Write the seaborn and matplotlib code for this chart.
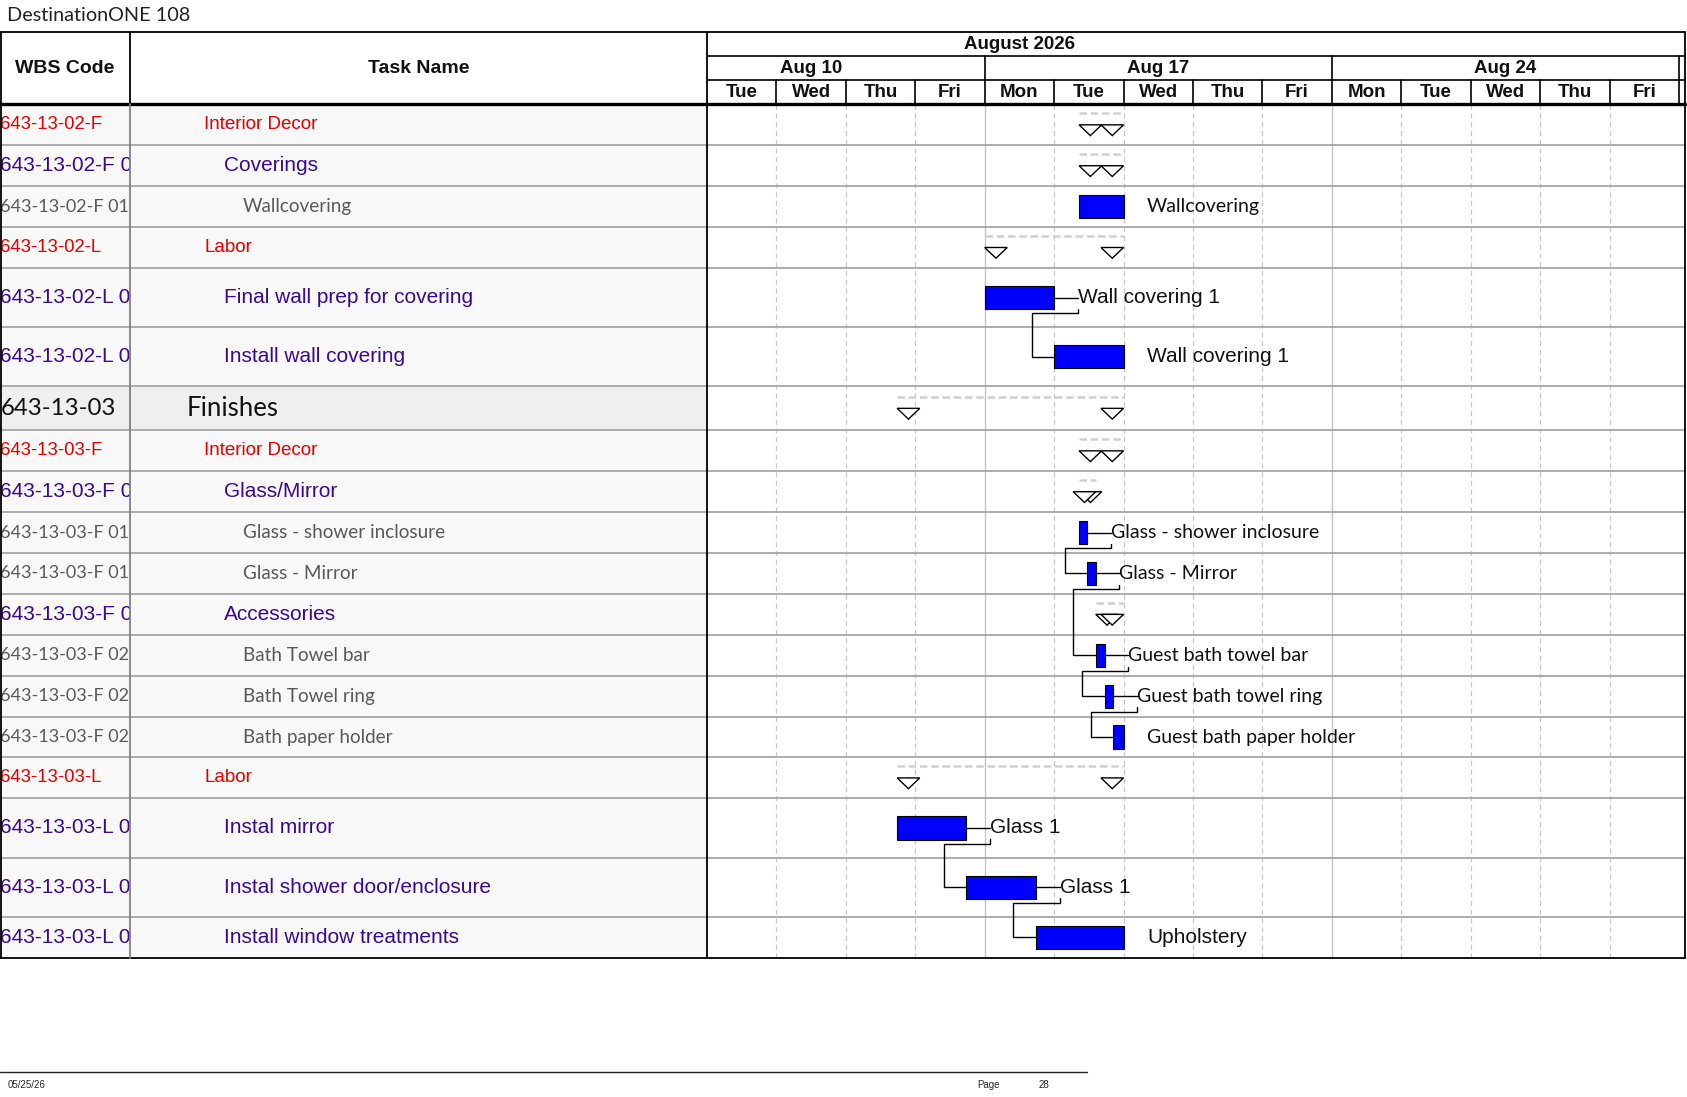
import numpy as np
import matplotlib.pyplot as plt
from matplotlib.patches import Polygon
import seaborn as sns

sns.set_theme(style="white")
plt.rcParams['font.family'] = ['Liberation Sans', 'DejaVu Sans']

# ---------------- data ----------------
wbs_codes = ["643-13-02-F", "643-13-02-F 01", "643-13-02-F 01.01", "643-13-02-L",
             "643-13-02-L 01", "643-13-02-L 02", "643-13-03", "643-13-03-F",
             "643-13-03-F 01", "643-13-03-F 01.01", "643-13-03-F 01.02",
             "643-13-03-F 02", "643-13-03-F 02.01", "643-13-03-F 02.02",
             "643-13-03-F 02.03", "643-13-03-L", "643-13-03-L 01",
             "643-13-03-L 02", "643-13-03-L 03"]
task_names = ["Interior Decor", "Coverings", "Wallcovering", "Labor",
              "Final wall prep for covering", "Install wall covering", "Finishes",
              "Interior Decor", "Glass/Mirror", "Glass - shower inclosure",
              "Glass - Mirror", "Accessories", "Bath Towel bar", "Bath Towel ring",
              "Bath paper holder", "Labor", "Instal mirror",
              "Instal shower door/enclosure", "Install window treatments"]
outline_level = [1, 2, 3, 1, 2, 2, 0, 1, 2, 3, 3, 2, 3, 3, 3, 1, 2, 2, 2]
is_summary = [True, True, False, True, False, False, True, True, True, False,
              False, True, False, False, False, True, False, False, False]
# start / finish in working days counted from Tue Aug 11, 2026
task_start = [5.36, 5.36, 5.36, 4.0, 4.0, 5.0, 2.74, 5.36, 5.36, 5.36, 5.48,
              5.6, 5.6, 5.73, 5.855, 2.74, 2.74, 3.735, 4.74]
task_finish = [6.0, 6.0, 6.0, 6.0, 5.0, 6.0, 6.0, 6.0, 5.6, 5.48, 5.6, 6.0,
               5.73, 5.855, 6.0, 6.0, 3.735, 4.74, 6.0]
bar_labels = ["", "", "Wallcovering", "", "Wall covering 1", "Wall covering 1", "",
              "", "", "Glass - shower inclosure", "Glass - Mirror", "",
              "Guest bath towel bar", "Guest bath towel ring",
              "Guest bath paper holder", "", "Glass 1", "Glass 1", "Upholstery"]
links = [(4, 5), (9, 10), (10, 12), (12, 13), (13, 14), (16, 17), (17, 18)]
day_names = ["Tue", "Wed", "Thu", "Fri", "Mon", "Tue", "Wed", "Thu", "Fri",
             "Mon", "Tue", "Wed", "Thu", "Fri"]
week_names = ["Aug 10", "Aug 17", "Aug 24"]
week_first_day = [-1, 4, 9]
month_name = "August 2026"
month_span = (-6, 15)

# ---------------- layout / style ----------------
row_h = [38, 38, 38, 38, 55, 55, 41, 38, 38, 38, 38, 38, 38, 38, 38, 38, 55, 55, 38]
resource_label = [False, False, False, False, True, True, False, False, False,
                  False, False, False, False, False, False, False, True, True, True]
level_color = {0: "#111111", 1: "#E00000", 2: "#3B0A8A", 3: "#595959"}
level_indent = {0: 52, 1: 69, 2: 87, 3: 105}
CAL = ['Lato', 'DejaVu Sans']
ARI = ['Liberation Sans', 'DejaVu Sans']
# (family, wbs size, task size) per outline level
level_font = {0: (CAL, 17.3, 18.5), 1: (ARI, 13.3, 13.5), 2: (ARI, 15, 15),
              3: (CAL, 13, 13.6)}

W, H = 1687, 1097
fig = plt.figure(figsize=(W / 100, H / 100), dpi=100)


def add_ax(x0, y0, x1, y1):
    ax = fig.add_axes([x0 / W, 1 - y1 / H, (x1 - x0) / W, (y1 - y0) / H])
    ax.set_axis_off()
    return ax


X_COL1, X_COL2, X_RIGHT = 130.2, 706.9, 1685.5
Y_TOP, Y_BODY, Y_BOT = 32.3, 104.4, 957.6
n_days = 14
x_max = 14.093

heights = np.array(row_h, dtype=float)
tops = np.concatenate([[0], np.cumsum(heights)[:-1]])
centers = tops + heights / 2
bottoms = tops + heights
total_h = heights.sum()

ax_wbs = add_ax(0, Y_BODY, X_COL1, Y_BOT)
ax_task = add_ax(X_COL1, Y_BODY, X_COL2, Y_BOT)
ax_g = add_ax(X_COL2, Y_BODY, X_RIGHT, Y_BOT)
ax_h = add_ax(X_COL2, Y_TOP, X_RIGHT, Y_BODY)

for ax, w in ((ax_wbs, 121), (ax_task, 536)):
    ax.set_xlim(0, w)
    ax.set_ylim(total_h, 0)
    for i in range(len(row_h)):
        bg = "#EFEFEF" if outline_level[i] == 0 else "#F8F8F8"
        ax.axhspan(tops[i], bottoms[i], color=bg, lw=0, zorder=0)
ax_g.set_xlim(0, x_max)
ax_g.set_ylim(total_h, 0)

# table text
for i, (code, name, lvl) in enumerate(zip(wbs_codes, task_names, outline_level)):
    fam, s_wbs, s_task = level_font[lvl]
    ax_wbs.text(0.3, centers[i], code, family=fam, fontsize=s_wbs,
                color=level_color[lvl], va="center", ha="left", clip_on=True)
    ax_task.text(level_indent[lvl], centers[i], name, family=fam, fontsize=s_task,
                 color=level_color[lvl], va="center", ha="left", clip_on=True)

# row separators
for b in bottoms[:-1]:
    for ax in (ax_wbs, ax_task, ax_g):
        ax.axhline(b, color="#A6A6A6", lw=1.3, zorder=1)

# gantt grid
for k in range(1, n_days):
    if k in week_first_day:
        ax_g.axvline(k, color="#C4C4C4", lw=1.0, zorder=0.5)
    else:
        ax_g.axvline(k, color="#C8C8C8", lw=0.9, ls=(0, (4, 3)), zorder=0.5)

# bars
leaf = [i for i in range(len(task_names)) if not is_summary[i]]
s_arr = np.array(task_start)
f_arr = np.array(task_finish)
ax_g.barh(centers[leaf], (f_arr - s_arr)[leaf], left=s_arr[leaf], height=21.5,
          color="#0000FF", edgecolor="black", lw=0.8, zorder=3)

# summary rows: dashed span + open triangles
tri_w, tri_h = 0.325, 10
for i in range(len(task_names)):
    if not is_summary[i]:
        continue
    c, s, f = centers[i], task_start[i], task_finish[i]
    ax_g.plot([s, f], [c - 11, c - 11], color="#D0D0D0", lw=1.8, ls=(0, (3, 1.5)), zorder=2)
    for x0 in (s, f - tri_w):
        ax_g.add_patch(Polygon([(x0, c), (x0 + tri_w, c), (x0 + tri_w / 2, c + tri_h)],
                               closed=True, facecolor="white", edgecolor="black",
                               lw=1.0, zorder=3))

# labels & connectors
succ = {a for a, b in links}
lab_off = 0.34
for i in leaf:
    c, f = centers[i], task_finish[i]
    if i in succ:
        ax_g.plot([f, f + lab_off], [c, c], color="black", lw=1.0, zorder=2)
    fam, size = (ARI, 15) if resource_label[i] else (CAL, 14)
    ax_g.text(f + lab_off, c, bar_labels[i], family=fam, fontsize=size,
              color="#111111", va="center", ha="left", zorder=4)

# finish-to-start links
for a, b in links:
    lx = task_finish[a] + lab_off
    vx = task_start[b] - 0.325
    ya = centers[a]
    ax_g.plot([lx, lx, vx, vx, task_start[b]],
              [ya + 10.5, ya + 14.5, ya + 14.5, centers[b], centers[b]],
              color="black", lw=1.0, zorder=2)

# timescale header
ax_h.set_xlim(0, x_max)
ax_h.set_ylim(67, 0)
hdr = dict(family=ARI, fontweight="bold", color="#111111", ha="center", va="center")
ax_h.text(sum(month_span) / 2, 11.5, month_name, fontsize=13.5, **hdr)
for name, w0 in zip(week_names, week_first_day):
    ax_h.text(w0 + 2.5, 33.5, name, fontsize=13.5, clip_on=True, **hdr)
for k, name in enumerate(day_names):
    ax_h.text(k + 0.5, 56, name, fontsize=13.5, **hdr)
ax_h.plot([0, x_max], [22, 22], color="black", lw=1.2)
ax_h.plot([0, x_max], [44, 44], color="black", lw=1.2)
for k in range(1, n_days + 1):
    top = 22 if (k in week_first_day or k == n_days) else 44
    ax_h.plot([k, k], [top, 67], color="black", lw=1.2)

# frame, title and footer on a full-figure overlay
ax_f = fig.add_axes([0, 0, 1, 1])
ax_f.set_axis_off()
ax_f.set_xlim(0, W)
ax_f.set_ylim(H, 0)
ax_f.plot([0, X_RIGHT], [Y_TOP, Y_TOP], color="black", lw=1.3)
ax_f.plot([0, X_RIGHT], [Y_BODY, Y_BODY], color="black", lw=2.4)
ax_f.plot([0, X_RIGHT], [Y_BOT, Y_BOT], color="black", lw=1.3)
ax_f.plot([0.8, 0.8], [Y_TOP, Y_BOT], color="black", lw=1.3)
ax_f.plot([X_COL1, X_COL1], [Y_TOP, Y_BODY], color="black", lw=1.3)
ax_f.plot([X_COL1, X_COL1], [Y_BODY, Y_BOT], color="#808080", lw=1.3)
ax_f.plot([X_COL2, X_COL2], [Y_TOP, Y_BOT], color="black", lw=1.3)
ax_f.plot([X_RIGHT, X_RIGHT], [Y_TOP, Y_BOT], color="black", lw=1.3)
ax_f.text(X_COL1 / 2, (Y_TOP + Y_BODY) / 2, "WBS Code", family=ARI, fontweight="bold",
          fontsize=14, ha="center", va="center", color="#111111")
ax_f.text((X_COL1 + X_COL2) / 2, (Y_TOP + Y_BODY) / 2, "Task Name", family=ARI,
          fontweight="bold", fontsize=14, ha="center", va="center", color="#111111")
ax_f.text(7.5, 15.5, "DestinationONE 108", family=CAL, fontsize=14.3, ha="left",
          va="center", color="#222222")
ax_f.plot([0, 1086.7], [1071.6, 1071.6], color="#222222", lw=1.0)
ax_f.text(8, 1084.5, "05/25/26", family=ARI, fontsize=7, ha="left", va="center")
ax_f.text(977, 1084.5, "Page", family=ARI, fontsize=7, ha="left", va="center")
ax_f.text(1039, 1084.5, "28", family=ARI, fontsize=7, ha="left", va="center")

fig.savefig("out.png", dpi=100, facecolor="white")
